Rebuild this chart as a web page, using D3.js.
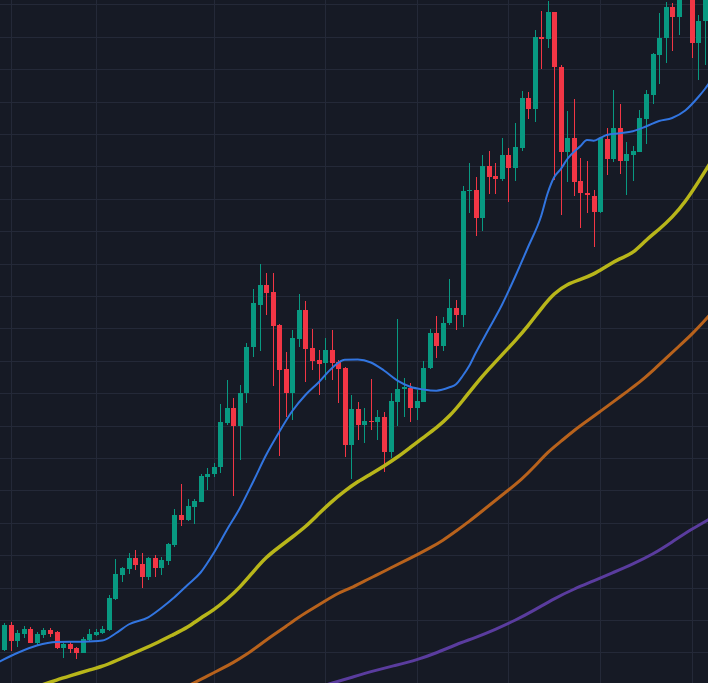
<!DOCTYPE html>
<html>
<head>
<meta charset="utf-8">
<script src="https://cdn.jsdelivr.net/npm/d3@7"></script>
<style>
  html, body { margin: 0; padding: 0; background: #161a25; overflow: hidden; }
  svg { display: block; }
</style>
</head>
<body>
<svg id="chart" width="708" height="683"></svg>
<script>
// ---------------- DATA ----------------
const openV = [1033,1058,1042,1049,1054.3,1040,1048,1053,1050.7,1034.7,
  1039,1034.7,1030.3,1043,1048,1049.7,1053,1084,1108,1113.7,
  1124.7,1118.7,1106.3,1124.7,1114.7,1122.3,1138,1168,1163,1176.3,
  1181.3,1206.3,1209,1215.7,1259.7,1275.3,1257.3,1289.7,1335.7,1378,
  1398,1391.3,1358,1313.7,1289.7,1343.7,1373,1335.3,1323,1319.7,
  1333,1321.3,1314.7,1238,1274,1258,1262,1261.3,1266.3,1230.7,
  1280.7,1294,1295.3,1275.3,1281.3,1314.7,1350.3,1337.3,1359.7,1374.7,
  1368,1492,1493,1465.5,1517,1507,1504,1528,1515.3,1535.3,
  1585.3,1574,1645.7,1644,1670.7,1616.3,1531.3,1545.3,1502,1490.3,
  1487,1471.3,1543.7,1524,1554.7,1522.3,1528,1531.3,1564,1588,
  1628,1644.7,1676.3,1666.3,1693,1691,1640.3,1662];
const closeV = [1058,1042,1050.3,1053.7,1040.3,1049,1053,1049,1035,1039,
  1034.3,1030.3,1043.7,1048.7,1051.3,1054,1085,1109,1114.7,1124.7,
  1118,1106.3,1124.7,1114.7,1123,1139,1168,1163,1177,1182,
  1207,1209,1216.3,1260.7,1275.3,1257.3,1290.3,1336.3,1379.7,1398,
  1390.3,1357,1313,1289.7,1344.7,1373,1333.7,1322,1319,1333,
  1320.3,1313.7,1238,1273.7,1258,1262,1261,1266.3,1230.7,1282,
  1294,1296.3,1275.3,1282,1314.7,1350.3,1337.3,1360.3,1374.7,1368,
  1492,1493,1465.5,1517,1506.3,1504,1528,1515.3,1536.3,1585.3,
  1574,1646.3,1644.5,1670.7,1616.3,1531.3,1545.3,1501.3,1489.7,1488,
  1471.3,1545.3,1524,1554.7,1522.3,1529,1532,1565.3,1588.7,1629,
  1645.3,1676.3,1666.3,1686,1713,1640.3,1662,1686];
const highV = [1060.3,1061.5,1053,1057,1056,1051,1055,1054.7,1052.3,1039.7,
  1040.7,1036.3,1046.3,1053.7,1053.7,1057,1088,1123.7,1116.3,1130.3,
  1133,1129.7,1125.7,1128,1126.3,1140.3,1173.7,1199,1183.7,1183.7,
  1209,1214.7,1219.7,1278.7,1303,1285.3,1298,1339.7,1393.7,1419,
  1409.7,1410.3,1359,1331.3,1353,1389,1382.3,1353.7,1333,1344.7,
  1353,1323,1316.3,1288,1281.3,1274.7,1303.7,1273,1271.3,1289.7,
  1363.7,1304.7,1299.7,1293,1322,1353.7,1367,1366.3,1403.7,1383,
  1497,1520,1505.7,1528,1532,1519.7,1545,1535,1560.3,1592.3,
  1591.3,1653,1672,1682,1671.3,1618,1572,1584,1524.7,1522.3,
  1493,1546.3,1554.7,1593,1578.7,1541,1537,1573,1593,1630,
  1669.7,1681.3,1680.3,1691,1723,1695,1668,1691];
const lowV = [1032,1032,1036.3,1045.3,1039.7,1038,1045.3,1045.7,1034,1025.3,
  1029.7,1024,1029.7,1042,1047.3,1048.7,1052.3,1083,1101.3,1109,
  1113,1094.7,1103,1105.7,1108,1118,1136.3,1157,1162.3,1159,
  1180.7,1193,1206.3,1210.3,1258,1187,1223,1279.7,1326.3,1332.3,
  1368,1297,1227,1266.3,1263,1335.7,1301.3,1313,1288,1303,
  1303,1280.3,1226.3,1204,1243,1239.7,1253,1243,1211.3,1224.7,
  1257,1266.3,1261.3,1263,1281,1314,1324.7,1332.3,1358,1353,
  1356.3,1470,1447.3,1452.3,1489,1489,1502.3,1481.3,1502.3,1532.3,
  1564,1561.3,1614,1635.3,1503,1468,1501.3,1487,1455.3,1469.7,
  1436.3,1469.7,1508,1520.7,1509,1488,1502.3,1531,1539,1579,
  1599,1619.7,1632,1648,1686,1624.7,1603,1618];

// moving averages, sampled at candle indices
const maFastIdx = [-1,2,5,8,12,15,17,19,22,24,26,28,30,32,34,36,38,40,42,44,46,48,50,52,54,56,58,60,62,64,66,68,69,70,71,72,74,76,78,80,82,83,84,85,86,88,89,90,91,92,94,96,98,100,102,104,106,107,108];
const maFastVal = [1020.5,1030,1037.5,1041,1041.3,1042.5,1049.5,1058.5,1065.7,1075,1085.7,1098,1110.5,1130,1153,1175,1201,1228,1251,1272,1288,1300.5,1314.5,1323.3,1323.5,1320.5,1312.5,1302.7,1296.3,1293.5,1292.3,1295.7,1298.7,1307,1317,1330,1354,1378,1406,1436,1467,1490,1506,1514,1524,1537,1543,1542.3,1545,1548,1549.7,1551.7,1556.5,1562,1565,1572.5,1586,1594,1603];

const maMidIdx = [4,6,8,10,13,15,17,20,23,26,28,30,32,34,36,38,40,42,44,46,48,50,52,54,56,58,60,62,64,66,68,70,72,74,76,78,80,82,84,86,88,90,92,94,96,98,100,102,104,106,108,109];
const maMidVal = [994.5,998.5,1003,1007,1013,1016.5,1022,1030.5,1039,1049,1055.5,1065,1073,1083.5,1095.5,1111,1126,1136,1146,1156,1169,1181.5,1192,1201.5,1209,1217,1225.5,1235.5,1245.5,1255,1266.5,1282,1299,1314,1328,1342,1357,1374.5,1390,1399,1403.5,1408.5,1417,1424.5,1429.5,1443,1453.5,1465.5,1481,1501,1522,1533];

const maSlowIdx = [27,29,31,33,35,37,39,41,43,45,47,49,51,53,55,57,59,61,63,65,67,69,71,73,75,77,79,81,83,85,87,89,91,93,95,97,99,101,103,105,107,108,109];
const maSlowVal = [994,1000,1007,1013.5,1020.5,1028.5,1038,1047.5,1056.5,1066,1074,1082,1090,1095,1102,1108.3,1115,1121.5,1128,1135,1142.5,1152,1161.5,1172,1182.5,1193,1203.5,1216.5,1231,1241.5,1252.5,1262,1271.5,1281,1291,1300.5,1312,1324.5,1336.5,1348.5,1362.5,1370,1377];

const maLongIdx = [47,50,53,56,60,63,66,69,72,75,78,81,84,87,90,93,96,99,102,105,108,109];
const maLongVal = [994,999.7,1005.5,1011.5,1018,1023,1030,1038.5,1045.5,1053.5,1062.5,1073,1084.5,1094,1102,1110.5,1119,1128.5,1141,1154,1165,1169];

// grid (time ticks at candle indices, price levels)
const timeTickIdx = [1,14,32,49,63,77,91,105];
const priceTicks = [1030.7,1063.1,1095.5,1127.9,1160.3,1192.7,1225.1,1257.5,1289.9,1322.3,1354.7,1387.1,1419.5,1451.9,1484.3,1516.7,1549.1,1581.5,1613.9,1646.3,1678.7];

// ---------------- CHART ----------------
const W = 708, H = 683;
const colors = {
  bg: "#161a25", grid: "#242938",
  up: "#089981", down: "#f23645",
  fast: "#3275e0", mid: "#b8b61a", slow: "#b8621c", long: "#5a3c9e"
};

const svg = d3.select("#chart");
svg.append("rect").attr("width", W).attr("height", H).attr("fill", colors.bg);

const x = d3.scaleLinear().domain([0, 107]).range([4.15, 704.9]);
const y = d3.scaleLinear().domain([1000, 1683]).range([683, 0]);

const candles = openV.map((o, i) => ({ i, o, h: highV[i], l: lowV[i], c: closeV[i] }));

// grid
const g = svg.append("g").attr("shape-rendering", "crispEdges");
g.selectAll("line.h").data(priceTicks).join("line")
  .attr("x1", 0).attr("x2", W)
  .attr("y1", d => Math.round(y(d)) + 0.5).attr("y2", d => Math.round(y(d)) + 0.5)
  .attr("stroke", colors.grid).attr("stroke-width", 1);
g.selectAll("line.v").data(timeTickIdx).join("line")
  .attr("y1", 0).attr("y2", H)
  .attr("x1", d => Math.round(x(d)) + 0.5).attr("x2", d => Math.round(x(d)) + 0.5)
  .attr("stroke", colors.grid).attr("stroke-width", 1);

// candles
const cg = svg.append("g").attr("shape-rendering", "crispEdges");
const bodyW = 5;
cg.selectAll("rect.wick").data(candles).join("rect")
  .attr("x", d => Math.round(x(d.i)))
  .attr("width", 1)
  .attr("y", d => Math.round(y(d.h)))
  .attr("height", d => Math.max(1, Math.round(y(d.l)) - Math.round(y(d.h))))
  .attr("fill", d => d.c >= d.o ? colors.up : colors.down);
cg.selectAll("rect.body").data(candles).join("rect")
  .attr("x", d => Math.round(x(d.i)) - 2)
  .attr("width", bodyW)
  .attr("y", d => Math.round(y(Math.max(d.o, d.c))))
  .attr("height", d => Math.max(1, Math.round(y(Math.min(d.o, d.c))) - Math.round(y(Math.max(d.o, d.c)))))
  .attr("fill", d => d.c >= d.o ? colors.up : colors.down);

// moving averages
const lineMono = d3.line().x(d => x(d[0])).y(d => y(d[1])).curve(d3.curveMonotoneX);
const lineSmooth = d3.line().x(d => x(d[0])).y(d => y(d[1])).curve(d3.curveBasis);
const series = [
  { idx: maLongIdx, val: maLongVal, color: colors.long, w: 3, gen: lineSmooth },
  { idx: maSlowIdx, val: maSlowVal, color: colors.slow, w: 3, gen: lineSmooth },
  { idx: maMidIdx, val: maMidVal, color: colors.mid, w: 3.5, gen: lineSmooth },
  { idx: maFastIdx, val: maFastVal, color: colors.fast, w: 2, gen: lineMono }
];
series.forEach(s => {
  svg.append("path")
    .datum(s.idx.map((k, j) => [k, s.val[j]]))
    .attr("d", s.gen)
    .attr("fill", "none")
    .attr("stroke", s.color)
    .attr("stroke-width", s.w)
    .attr("stroke-linejoin", "round")
    .attr("stroke-linecap", "round");
});
</script>
</body>
</html>
